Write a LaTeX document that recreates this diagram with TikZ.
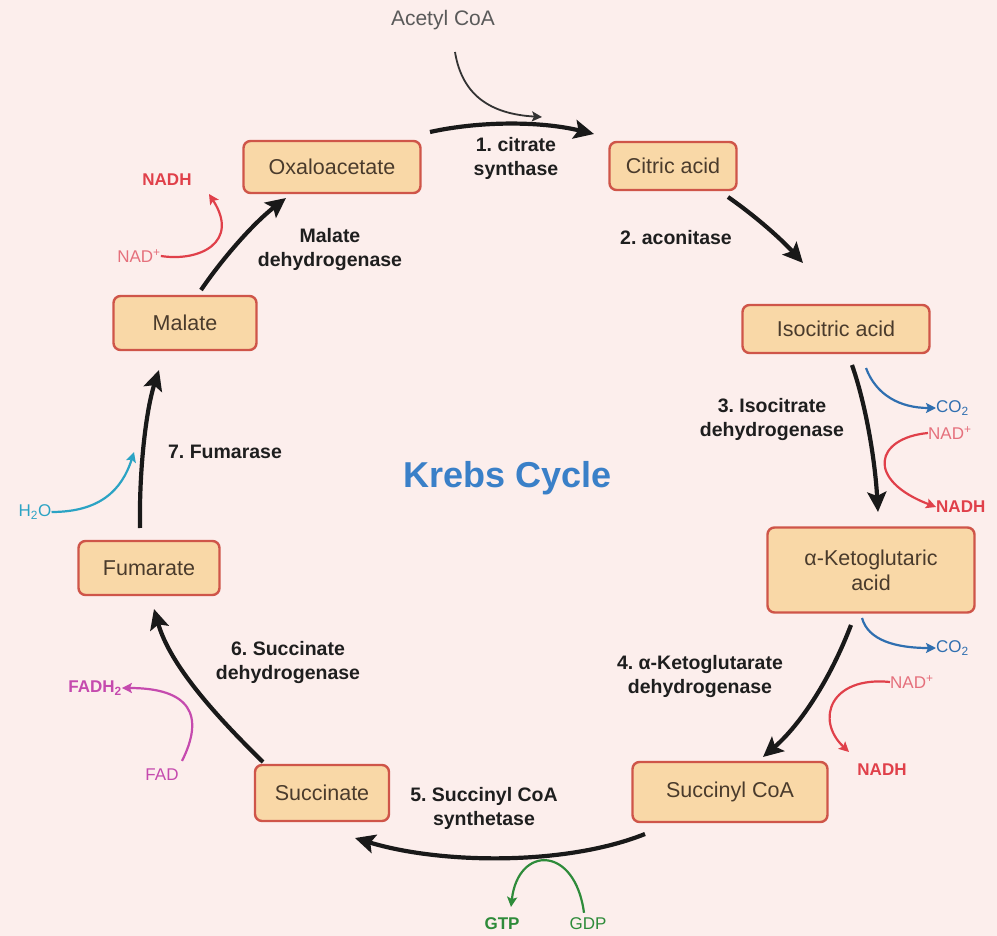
\documentclass[tikz,border=0pt]{standalone}
\usepackage{fontspec}
\setmainfont{Liberation Sans}
\usetikzlibrary{arrows.meta}
\frenchspacing
\definecolor{bgc}{HTML}{FCEEEC}
\definecolor{boxfill}{HTML}{F9D8A7}
\definecolor{boxdraw}{HTML}{CF5549}
\definecolor{boxtext}{HTML}{4A3B2C}
\definecolor{labtext}{HTML}{1E1E1E}
\definecolor{krebs}{HTML}{3A80C8}
\definecolor{co2c}{HTML}{2F6FB0}
\definecolor{nadhc}{HTML}{E0404A}
\definecolor{nadc}{HTML}{E5707C}
\definecolor{gtpc}{HTML}{2E8B3A}
\definecolor{fadc}{HTML}{C54AAE}
\definecolor{h2oc}{HTML}{2BA3C4}
\definecolor{acc}{HTML}{5A5A5A}
\tikzset{
  mol/.style={draw=boxdraw, line width=2.4pt, fill=boxfill, rounded corners=7pt,
    font=\fontsize{21.5}{25}\selectfont, text=boxtext, align=center, inner sep=0pt},
  enz/.style={font=\bfseries\fontsize{19.5}{24}\selectfont, text=labtext, align=center, inner sep=0pt},
  side/.style={font=\fontsize{17}{19}\selectfont, inner sep=0pt},
  sideb/.style={font=\bfseries\fontsize{17}{19}\selectfont, inner sep=0pt},
  mainarrow/.style={line width=4.2pt, draw=black!90, -{Stealth[length=20pt,width=19pt,inset=4pt]}},
  sidearrow/.style={line width=2.2pt, -{Stealth[length=10pt,width=10pt,inset=2pt]}},
}
\begin{document}
\begin{tikzpicture}[x=1pt,y=-1pt]
\fill[bgc] (0,0) rectangle (997,936);
\useasboundingbox (0,0) rectangle (997,936);

% molecules
\node[mol, minimum width=177pt, minimum height=52pt] (oxa) at (332,167) {Oxaloacetate};
\node[mol, minimum width=127pt, minimum height=48pt] (cit) at (673,166) {Citric acid};
\node[mol, minimum width=187pt, minimum height=48pt] (iso) at (836,329) {Isocitric acid};
\node[mol, minimum width=207pt, minimum height=85pt] (akg) at (871,570) {α-Ketoglutaric\\acid};
\node[mol, minimum width=195pt, minimum height=60pt] (sca) at (730,792) {Succinyl CoA};
\node[mol, minimum width=134pt, minimum height=56pt] (suc) at (322,793) {Succinate};
\node[mol, minimum width=141pt, minimum height=54pt] (fum) at (149,568) {Fumarate};
\node[mol, minimum width=143pt, minimum height=54pt] (mal) at (185,323) {Malate};

\node[font=\bfseries\fontsize{36}{40}\selectfont, text=krebs, inner sep=0pt] (title) at (508,478) {Krebs Cycle};

% enzyme labels
\node[enz] (e1) at (516,158) {1. citrate\\synthase};
\node[enz] (e2) at (676,238) {2. aconitase};
\node[enz] (e3) at (772,420) {3. Isocitrate\\dehydrogenase};
\node[enz] (e4) at (700,676) {4. α-Ketoglutarate\\dehydrogenase};
\node[enz] (e5) at (484,808) {5. Succinyl CoA\\synthetase};
\node[enz] (e6) at (288,662) {6. Succinate\\dehydrogenase};
\node[enz] (e7) at (225,452) {7. Fumarase};
\node[enz] (e8) at (330,250) {Malate\\dehydrogenase};

% arrow end points
\coordinate (a1s) at (430,132); \coordinate (a1e) at (594,134);
\coordinate (a2s) at (728,197); \coordinate (a2e) at (803,263);
\coordinate (a3s) at (852,365); \coordinate (a3e) at (878,512);
\coordinate (a4s) at (851,625); \coordinate (a4e) at (763,757);
\coordinate (a5s) at (645,834); \coordinate (a5e) at (355,838);
\coordinate (a6s) at (263,762); \coordinate (a6e) at (154,609);
\coordinate (a7s) at (140,528); \coordinate (a7e) at (159,370);
\coordinate (a8s) at (201,290); \coordinate (a8e) at (286,198);

% main cycle
\draw[mainarrow] (a1s) .. controls (480,121) and (540,121) .. (a1e);
\draw[mainarrow] (a2s) .. controls (758,218) and (782,240) .. (a2e);
\draw[mainarrow] (a3s) .. controls (866,405) and (875,460) .. (a3e);
\draw[mainarrow] (a4s) .. controls (830,680) and (800,725) .. (a4e);
\draw[mainarrow] (a5s) .. controls (565,866) and (440,864) .. (a5e);
\draw[mainarrow] (a6s) .. controls (215,715) and (170,665) .. (a6e);
\draw[mainarrow] (a7s) .. controls (139,470) and (146,410) .. (a7e);
\draw[mainarrow] (a8s) .. controls (225,255) and (255,222) .. (a8e);

% Acetyl CoA
\node[side, text=acc, font=\fontsize{21}{24}\selectfont] (acetyl) at (443,20) {Acetyl CoA};
\coordinate (acs) at (455,52); \coordinate (ace) at (542,117);
\draw[sidearrow, draw=black!80, line width=1.8pt] (acs) .. controls (462,95) and (490,114) .. (ace);

% step 3 side products
\node[side, text=co2c, anchor=west] (co2a) at (936,408) {CO\textsubscript{2}};
\node[side, text=nadc, anchor=west] (nad3) at (928,433) {NAD\textsuperscript{+}};
\node[sideb, text=nadhc, anchor=west] (nadh3) at (936,507) {NADH};
\coordinate (c3s) at (866,368);
\draw[sidearrow, draw=co2c] (c3s) .. controls (876,395) and (900,408) .. (co2a.west);
\draw[sidearrow, draw=nadhc] (nad3.west) .. controls (875,438) and (865,480) .. (nadh3.west);

% step 4 side products
\node[side, text=co2c, anchor=west] (co2b) at (936,648) {CO\textsubscript{2}};
\node[side, text=nadc, anchor=west] (nad4) at (890,682) {NAD\textsuperscript{+}};
\node[sideb, text=nadhc] (nadh4) at (882,770) {NADH};
\coordinate (c4s) at (862,618);
\draw[sidearrow, draw=co2c] (c4s) .. controls (868,640) and (895,648) .. (co2b.west);
\draw[sidearrow, draw=nadhc] (nad4.west) .. controls (830,676) and (815,720) .. (849,752);

% step 5 side products
\node[side, text=gtpc] (gdp) at (588,924) {GDP};
\node[sideb, text=gtpc] (gtp) at (502,924) {GTP};
\draw[sidearrow, draw=gtpc] (gdp.north) ++(-4,-5) .. controls (575,845) and (518,845) .. (511,907);

% step 6 side products
\node[side, text=fadc] (fad) at (162,775) {FAD};
\node[sideb, text=fadc] (fadh2) at (95,688) {FADH\textsubscript{2}};
\draw[sidearrow, draw=fadc] (fad.north) ++(20,-8) .. controls (205,715) and (190,688) .. (fadh2.east);

% step 7 side product
\node[side, text=h2oc] (h2o) at (35,512) {H\textsubscript{2}O};
\draw[sidearrow, draw=h2oc] (h2o.east) .. controls (100,512) and (122,490) .. (134,452);

% step 8 side products
\node[side, text=nadc] (nad8) at (139,256) {NAD\textsuperscript{+}};
\node[sideb, text=nadhc] (nadh8) at (167,180) {NADH};
\draw[sidearrow, draw=nadhc] (nad8.east) .. controls (200,262) and (240,242) .. (209,194);
\end{tikzpicture}
\end{document}
